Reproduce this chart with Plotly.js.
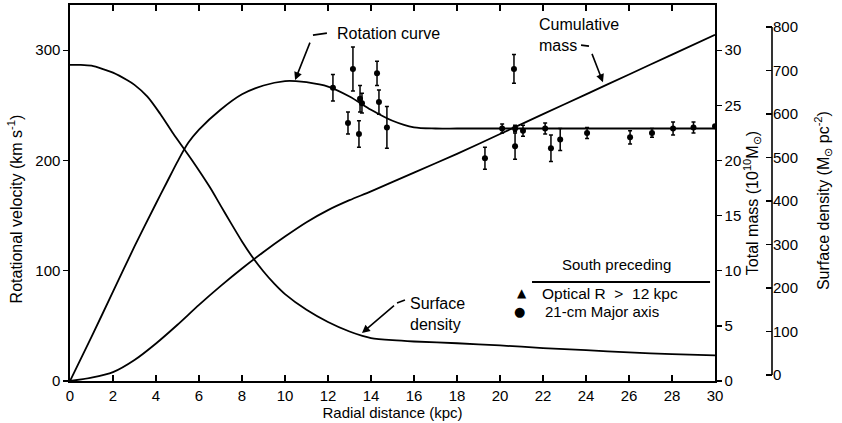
<!DOCTYPE html>
<html>
<head>
<meta charset="utf-8">
<script src="https://cdn.plot.ly/plotly-3.0.1.min.js"></script>
<style>html,body{margin:0;padding:0;background:#fff;}#chart{width:842px;height:423px;}</style>
</head>
<body>
<div id="chart"></div>
<script>
// Rotation curve (km/s)
const rotX = [0, 1, 2, 3, 4, 4.5, 5, 5.5, 6, 7, 8, 9, 10, 10.5, 11, 12, 13, 14, 15, 16, 17, 18, 20, 25, 30];
const rotV = [0, 40, 81, 122, 161, 180, 199, 216, 228, 246, 260, 268, 272, 272, 271, 267, 258, 246, 236, 230, 229, 229, 229, 229, 229];
// Surface density (Msun pc^-2)
const sdX = [0, 0.5, 1, 1.5, 2, 2.65, 3, 3.6, 4.2, 4.8, 5.3, 5.7, 6.5, 7, 7.5, 8, 8.5, 9, 9.5, 10, 11, 12, 13, 13.6, 14, 15, 16, 18, 20, 22, 24, 26, 28, 30];
const sdV = [713, 713, 711, 704, 695, 678, 667, 640, 600, 555, 520, 492, 432, 390, 348, 307, 270, 238, 210, 186, 150, 122, 100, 90, 85, 80, 77, 73, 68, 62, 57, 52, 48, 45];
// Cumulative mass (10^10 Msun)
const massX = [0, 1, 2, 3, 4, 5, 6, 7, 8, 9, 10, 11, 12, 13, 14, 16, 18, 20, 22, 24, 26, 28, 30];
const massV = [0, 0.3, 0.8, 1.9, 3.4, 5.1, 6.9, 8.6, 10.2, 11.7, 13.1, 14.4, 15.5, 16.4, 17.2, 18.9, 20.6, 22.4, 24.2, 26.0, 27.8, 29.6, 31.4];
// Observed points: 21-cm major axis
const obsX = [12.23, 13.16, 12.93, 13.44, 13.49, 13.58, 14.28, 14.37, 14.74, 19.3, 20.1, 20.65, 20.7, 20.7, 21.07, 22.1, 22.37, 22.8, 24.05, 26.05, 27.07, 28.05, 29.0, 30.0];
const obsV = [266, 283, 234, 224, 256, 252, 279, 253, 230, 202, 229, 283, 229, 213, 227, 229, 211, 219, 225, 221, 225, 229, 230, 231];
const obsErr = [12, 20, 10, 12, 12, 9, 11, 11, 19, 10, 4, 13, 3, 12, 5, 5, 12, 10, 5, 6, 4, 6, 5, 0];

const fontFam = 'Liberation Sans, Arial, Helvetica, sans-serif';
const lineStyle = {color: '#000', width: 1.8, shape: 'spline', smoothing: 0.8};
const traces = [
  {x: rotX, y: rotV, type: 'scatter', mode: 'lines', line: lineStyle, showlegend: false},
  {x: massX, y: massV, yaxis: 'y2', type: 'scatter', mode: 'lines', line: lineStyle, showlegend: false},
  {x: sdX, y: sdV, yaxis: 'y3', type: 'scatter', mode: 'lines', line: lineStyle, showlegend: false},
  {x: obsX, y: obsV, type: 'scatter', mode: 'markers', marker: {color: '#000', size: 6, symbol: 'circle'},
   error_y: {type: 'data', array: obsErr, visible: true, color: '#000', thickness: 1.5, width: 2}, showlegend: false}
];

const black = '#000';
const tickFont = {family: fontFam, size: 15, color: black};
const titleFont = {family: fontFam, size: 15, color: black};
const lab = (s) => ({family: fontFam, size: s, color: black});

const layout = {
  width: 842, height: 423,
  margin: {l: 70, r: 70, t: 5, b: 42},
  paper_bgcolor: '#fff', plot_bgcolor: '#fff',
  showlegend: false,
  font: {family: fontFam, color: black},
  xaxis: {
    domain: [0, 0.9188], range: [0, 30], tickvals: [0,2,4,6,8,10,12,14,16,18,20,22,24,26,28,30],
    ticks: 'inside', ticklen: 6, tickwidth: 1.3, tickcolor: black, showline: true, linecolor: black, linewidth: 1.6,
    mirror: 'ticks', showgrid: false, zeroline: false, tickfont: tickFont,
    title: {text: 'Radial distance (kpc)', font: titleFont, standoff: 4}
  },
  yaxis: {
    range: [0, 341], tickvals: [0, 100, 200, 300], ticks: 'outside', ticklen: 5, tickwidth: 1.3, tickcolor: black,
    showline: true, linecolor: black, linewidth: 1.6, showgrid: false, zeroline: false, tickfont: tickFont
  },
  yaxis2: {
    overlaying: 'y', side: 'right', anchor: 'x', range: [0, 34.1], tickvals: [0, 5, 10, 15, 20, 25, 30],
    ticks: 'outside', ticklen: 5, tickwidth: 1.3, tickcolor: black, showline: true, linecolor: black, linewidth: 1.6,
    showgrid: false, zeroline: false, tickfont: tickFont
  },
  yaxis3: {
    overlaying: 'y', side: 'right', anchor: 'free', position: 1, range: [-13.8, 850.6],
    tickvals: [0, 100, 200, 300, 400, 500, 600, 700, 800],
    ticks: 'inside', ticklen: 6, tickwidth: 1.3, tickcolor: black, showline: false,
    showgrid: false, zeroline: false, tickfont: tickFont
  },
  shapes: [
    {type: 'line', xref: 'paper', yref: 'y3', x0: 1, x1: 1, y0: 0, y1: 800, line: {color: black, width: 1.6}},
    // legend rule
    {type: 'line', xref: 'x', yref: 'y', x0: 21.49, x1: 29.77, y0: 89.8, y1: 89.8, line: {color: black, width: 2}},
    // leader hooks
    {type: 'line', xref: 'x', yref: 'y', x0: 11.95, x1: 11.30, y0: 315.5, y1: 313.7, line: {color: black, width: 1.6}},
    {type: 'line', xref: 'x', yref: 'y', x0: 23.77, x1: 24.14, y0: 304.6, y1: 303.7, line: {color: black, width: 1.6}},
    {type: 'line', xref: 'x', yref: 'y', x0: 15.58, x1: 15.21, y0: 73.4, y1: 70.7, line: {color: black, width: 1.6}}
  ],
  annotations: [
    // axis titles
    {xref: 'paper', yref: 'paper', x: -0.078, y: 0.457, xanchor: 'center', yanchor: 'middle', textangle: -90, text: 'Rotational velocity (km s<sup>-1</sup>)', showarrow: false, font: lab(16)},
    {xref: 'paper', yref: 'paper', x: 0.9715, y: 0.473, xanchor: 'center', yanchor: 'middle', textangle: -90, text: 'Total mass (10<sup>10</sup>M<sub>⊙</sub>)', showarrow: false, font: lab(16)},
    {xref: 'paper', yref: 'paper', x: 1.0726, y: 0.481, xanchor: 'center', yanchor: 'middle', textangle: -90, text: 'Surface density (M<sub>⊙</sub> pc<sup>-2</sup>)', showarrow: false, font: lab(16)},
    // curve labels
    {xref: 'x', yref: 'y', x: 12.33, y: 315.5, xanchor: 'left', yanchor: 'middle', text: 'Rotation curve', showarrow: false, font: lab(16)},
    {xref: 'x', yref: 'y', x: 21.72, y: 314, xanchor: 'left', yanchor: 'middle', align: 'left', text: 'Cumulative<br>mass', showarrow: false, font: lab(16)},
    {xref: 'x', yref: 'y', x: 15.72, y: 60.7, xanchor: 'left', yanchor: 'middle', align: 'left', text: 'Surface<br>density', showarrow: false, font: lab(16)},
    // leaders with arrowheads
    {xref: 'x', yref: 'y', axref: 'x', ayref: 'y', x: 10.47, y: 272.9, ax: 11.30, ay: 313.7, text: ' ', showarrow: true, arrowhead: 2, arrowsize: 1, arrowwidth: 1.6, arrowcolor: black},
    {xref: 'x', yref: 'y', axref: 'x', ayref: 'y', x: 24.79, y: 271, ax: 24.14, ay: 303.7, text: ' ', showarrow: true, arrowhead: 2, arrowsize: 1, arrowwidth: 1.6, arrowcolor: black},
    {xref: 'x', yref: 'y', axref: 'x', ayref: 'y', x: 13.58, y: 43.5, ax: 15.21, ay: 70.7, text: ' ', showarrow: true, arrowhead: 2, arrowsize: 1, arrowwidth: 1.6, arrowcolor: black},
    // legend
    {xref: 'x', yref: 'y', x: 25.44, y: 106, text: 'South preceding', showarrow: false, font: lab(15)},
    {xref: 'x', yref: 'y', x: 21.02, y: 79.8, text: '▲', showarrow: false, font: {family: 'DejaVu Sans', size: 12, color: black}},
    {xref: 'x', yref: 'y', x: 21.86, y: 79.8, xanchor: 'left', text: 'Optical R&nbsp;&nbsp;&gt;&nbsp;&nbsp;12 kpc', showarrow: false, font: lab(15.5)},
    {xref: 'x', yref: 'y', x: 20.93, y: 62.6, text: '●', showarrow: false, font: {family: 'DejaVu Sans', size: 13, color: black}},
    {xref: 'x', yref: 'y', x: 22.0, y: 62.6, xanchor: 'left', text: '21-cm Major axis', showarrow: false, font: lab(15)}
  ]
};

Plotly.newPlot('chart', traces, layout, {displayModeBar: false, staticPlot: true});
</script>
</body>
</html>
